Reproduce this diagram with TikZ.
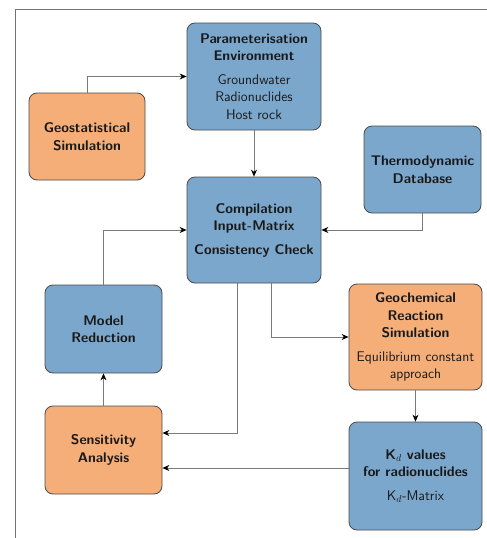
\documentclass[tikz,border=0pt]{standalone}
\usetikzlibrary{arrows.meta}
\definecolor{boxblue}{HTML}{7BA7CC}
\definecolor{boxorange}{HTML}{F5AE78}
\definecolor{boxline}{HTML}{4A4A4A}
\definecolor{conline}{HTML}{7A7A7A}
\begin{document}
\begin{tikzpicture}[x=1pt,y=-1pt,
  every node/.style={font=\sffamily\fontsize{14}{17.5}\selectfont, text=black!90},
  card/.style={draw=boxline, line width=0.8pt, rounded corners=8pt, align=center, inner sep=2pt},
  bluecard/.style={card, fill=boxblue},
  orangecard/.style={card, fill=boxorange},
  conn/.style={draw=conline, line width=0.9pt, -{Stealth[length=7pt,width=6pt,black]}},
  framestyle/.style={draw=black!55, line width=1pt}]
\useasboundingbox (0,0) rectangle (487,538);
\draw[framestyle] (15,538) -- (15,9) -- (487,9);

\node[bluecard, minimum width=134pt, minimum height=107pt] (param) at (254,76.5)
  {\textbf{Parameterisation}\\\textbf{Environment}\\[6pt]Groundwater\\Radionuclides\\Host rock};
\node[orangecard, minimum width=116pt, minimum height=87pt] (geo) at (87,136.5)
  {\textbf{Geostatistical}\\\textbf{Simulation}};
\node[bluecard, minimum width=117pt, minimum height=87pt] (thermo) at (422.5,169.5)
  {\textbf{Thermodynamic}\\\textbf{Database}};
\node[bluecard, minimum width=134pt, minimum height=106pt] (comp) at (254,230)
  {\textbf{Compilation}\\\textbf{Input-Matrix}\\[6pt]\textbf{Consistency Check}};
\node[bluecard, minimum width=117pt, minimum height=88pt] (model) at (103.5,329)
  {\textbf{Model}\\\textbf{Reduction}};
\node[orangecard, minimum width=133pt, minimum height=106pt] (geochem) at (415.5,337)
  {\textbf{Geochemical}\\\textbf{Reaction}\\\textbf{Simulation}\\[6pt]Equilibrium constant\\approach};
\node[orangecard, minimum width=117pt, minimum height=88pt] (sens) at (103.5,450)
  {\textbf{Sensitivity}\\\textbf{Analysis}};
\node[bluecard, minimum width=133pt, minimum height=108pt] (kd) at (415.5,476)
  {\textbf{K$_d$ values}\\\textbf{for radionuclides}\\[6pt]K$_d$-Matrix};

\draw[conn] (geo.north) |- (param.west);
\draw[conn] (param.south) -- (comp.north);
\draw[conn] (thermo.south) |- (comp.east);
\draw[conn] (model.north) |- (comp.west);
\draw[conn] ([xshift=-17pt]comp.south) |- ([yshift=17pt]sens.east);
\draw[conn] ([xshift=17pt]comp.south) |- (geochem.west);
\draw[conn] (geochem.south) -- (kd.north);
\draw[conn] ([yshift=8pt]kd.west) -- ([yshift=-18pt]sens.east);
\draw[conn] (sens.north) -- (model.south);
\end{tikzpicture}
\end{document}
